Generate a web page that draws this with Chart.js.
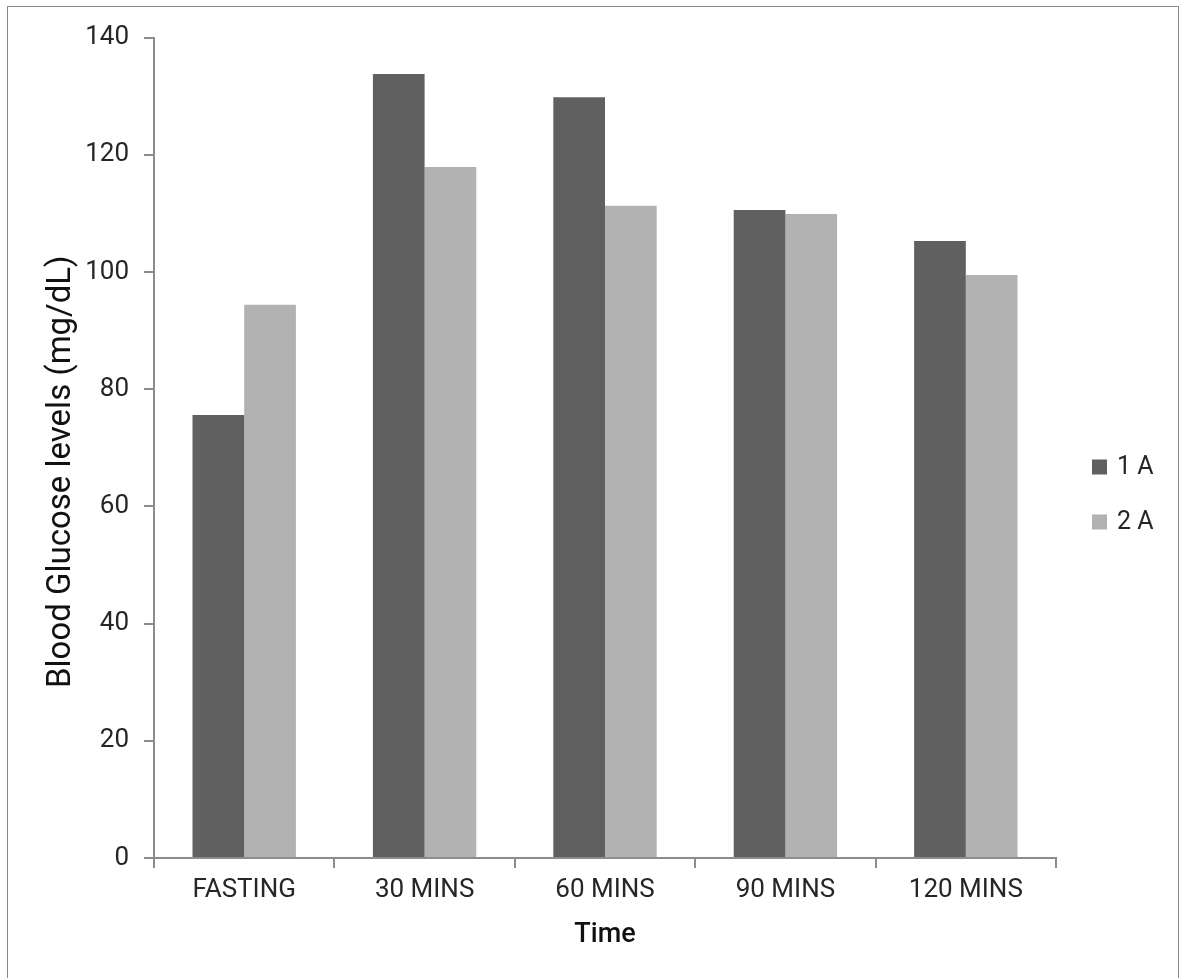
<!DOCTYPE html>
<html>
<head>
<meta charset="utf-8">
<script src="https://cdn.jsdelivr.net/npm/chart.js@4.4.1/dist/chart.umd.min.js"></script>
<style>
  html, body { margin: 0; padding: 0; background: #fff; overflow: hidden; }
  #frame {
    position: absolute; left: 7px; top: 6px;
    width: 1170px; height: 971px;
    border: 1px solid #8a8a8a;
    background: #fff;
  }
  #chart { display: block; }
</style>
</head>
<body>
<div id="frame"><canvas id="chart" width="1170" height="971"></canvas></div>
<script>
// Blood glucose by time point for two groups
const categories = ['FASTING', '30 MINS', '60 MINS', '90 MINS', '120 MINS'];
const seriesNames = ['1 A', '2 A'];
const group1A = [75.6, 133.8, 129.8, 110.6, 105.3];
const group2A = [94.4, 117.9, 111.3, 109.9, 99.5];
const yTicks = [0, 20, 40, 60, 80, 100, 120, 140];
const yTitle = 'Blood Glucose levels (mg/dL)';

const FONT = 'Roboto, "Liberation Sans", sans-serif';
const AXIS_GREY = '#8c8c8c';
const TEXT = '#262626';

// Legend at the right, reading names and colours from the datasets
const sideLegend = {
  id: 'sideLegend',
  afterDraw(chart) {
    const ctx = chart.ctx;
    ctx.save();
    ctx.font = '25px ' + FONT;
    ctx.textBaseline = 'middle';
    ctx.textAlign = 'left';
    chart.data.datasets.forEach((ds, i) => {
      const cy = 460 + i * 55;
      ctx.fillStyle = ds.backgroundColor;
      ctx.fillRect(1084, cy - 7.5, 15, 15);
      ctx.fillStyle = TEXT;
      ctx.fillText(ds.label, 1109, cy + 1);
    });
    ctx.restore();
  }
};

// Vertical axis title, set a little below the plot's middle
const sideTitle = {
  id: 'sideTitle',
  afterDraw(chart) {
    const ctx = chart.ctx;
    ctx.save();
    ctx.translate(62, 681);
    ctx.rotate(-Math.PI / 2);
    ctx.font = '33px ' + FONT;
    ctx.fillStyle = '#111';
    ctx.textAlign = 'left';
    ctx.textBaseline = 'alphabetic';
    ctx.fillText(yTitle, 0, 0);
    ctx.restore();
  }
};

new Chart(document.getElementById('chart'), {
  type: 'bar',
  data: {
    labels: categories,
    datasets: [
      { label: seriesNames[0], data: group1A, backgroundColor: '#606060',
        categoryPercentage: 0.573, barPercentage: 1.0 },
      { label: seriesNames[1], data: group2A, backgroundColor: '#b2b2b2',
        categoryPercentage: 0.573, barPercentage: 1.0 }
    ]
  },
  options: {
    responsive: false,
    animation: false,
    devicePixelRatio: 1,
    layout: { padding: { top: 28, right: 122, bottom: 0, left: 0 } },
    plugins: {
      legend: { display: false },
      tooltip: { enabled: false }
    },
    scales: {
      x: {
        offset: true,
        grid: {
          offset: true, drawOnChartArea: false, drawTicks: true,
          tickLength: 10, color: AXIS_GREY, lineWidth: 2
        },
        border: { display: true, color: AXIS_GREY, width: 2 },
        ticks: { font: { family: FONT, size: 26 }, color: TEXT, padding: 7, maxRotation: 0 },
        title: {
          display: true, text: 'Time', color: '#111',
          font: { family: FONT, size: 27, weight: '500' },
          padding: { top: 0, bottom: 27 }
        },
        afterFit(scale) { scale.height = 120; }
      },
      y: {
        min: 0, max: 140,
        afterBuildTicks(scale) { scale.ticks = yTicks.map(v => ({ value: v })); },
        grid: {
          drawOnChartArea: false, drawTicks: true,
          tickLength: 10, color: AXIS_GREY, lineWidth: 2
        },
        border: { display: true, color: AXIS_GREY, width: 2 },
        ticks: { font: { family: FONT, size: 26 }, color: TEXT, padding: 15 },
        title: { display: false },
        afterFit(scale) { scale.width = 146; }
      }
    }
  },
  plugins: [sideLegend, sideTitle]
});
</script>
</body>
</html>
